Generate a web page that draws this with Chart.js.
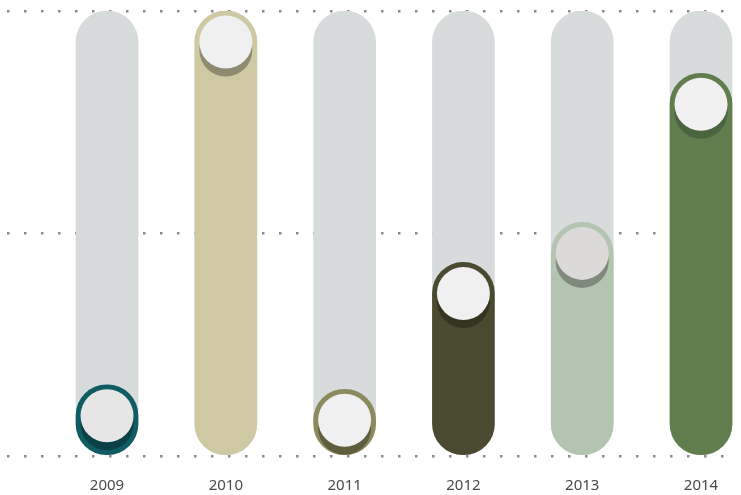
<!DOCTYPE html>
<html>
<head>
<meta charset="utf-8">
<script src="https://cdn.jsdelivr.net/npm/chart.js@4/dist/chart.umd.min.js"></script>
<style>
  html, body { margin: 0; padding: 0; background: #fff; }
  #wrap { width: 741px; height: 495px; }
</style>
</head>
<body>
<div id="wrap"><canvas id="chart"></canvas></div>
<script>
// values (0-100 scale)
const years = ["2009", "2010", "2011", "2012", "2013", "2014"];
const values = [16, 100, 15, 43.5, 52.5, 86];
const trackValues = [100, 100, 100, 100, 100, 100];
const barColors = ["#0f5c63", "#cec9a2", "#8b8a5c", "#4a4a31", "#b3c4b0", "#5f7d4d"];
const shadowColors = ["#0a4146", "#8e8b70", "#5f5e3f", "#34341f", "#7f8a7c", "#4a6440"];
const knobColors = ["#e6e6e6", "#eff0ef", "#eff0ef", "#eff0ef", "#dbdad8", "#eff0ef"];
const yTicks = [0, 50, 100];

// circles sitting in the top cap of each value bar
const knobPlugin = {
    id: "knobs",
    afterDatasetsDraw(chart) {
        const meta = chart.getDatasetMeta(0);
        const ctx = chart.ctx;
        ctx.save();
        meta.data.forEach(function (bar, i) {
            const half = bar.width / 2;
            const cx = bar.x;
            const cy = bar.y + half;
            const r = half - 4.5;
            ctx.fillStyle = shadowColors[i];
            ctx.beginPath();
            ctx.arc(cx, cy + 8, r, 0, Math.PI * 2);
            ctx.fill();
            ctx.fillStyle = knobColors[i];
            ctx.beginPath();
            ctx.arc(cx, cy, r, 0, Math.PI * 2);
            ctx.fill();
        });
        ctx.restore();
    }
};

const ctx = document.getElementById("chart").getContext("2d");
new Chart(ctx, {
    type: "bar",
    data: {
        datasets: [{
            label: "value",
            data: values.map((v, i) => ({ x: i, y: v })),
            backgroundColor: barColors,
            borderRadius: 31,
            borderSkipped: false,
            barThickness: 62,
            grouped: false
        }, {
            label: "track",
            data: trackValues.map((v, i) => ({ x: i, y: v })),
            backgroundColor: "#d8dbdc",
            borderRadius: 31,
            borderSkipped: false,
            barThickness: 62,
            grouped: false
        }]
    },
    options: {
        responsive: true,
        maintainAspectRatio: false,
        animation: false,
        layout: { padding: { left: 7, right: 6, top: 11, bottom: 0 } },
        plugins: { legend: { display: false }, tooltip: { enabled: false } },
        scales: {
            x: {
                type: "linear",
                min: -0.842,
                max: 5.286,
                offset: false,
                grid: { display: false, offset: false, drawTicks: false },
                border: { display: false },
                afterFit: (scale) => { scale.height = 39; },
                ticks: {
                    stepSize: 1,
                    includeBounds: false,
                    maxRotation: 0,
                    padding: 21,
                    color: "#4a4a4a",
                    font: { family: "Noto Sans", size: 15 },
                    callback: (v) => years[v] !== undefined ? years[v] : ""
                }
            },
            y: {
                min: 0,
                max: 100,
                afterBuildTicks: (axis) => { axis.ticks = yTicks.map(v => ({ value: v })); },
                ticks: { display: false },
                border: { display: false, dash: [2.5, 14.5] },
                grid: {
                    color: "#8a8a8a",
                    lineWidth: 2.5,
                    drawTicks: false
                }
            }
        }
    },
    plugins: [knobPlugin]
});
</script>
</body>
</html>
